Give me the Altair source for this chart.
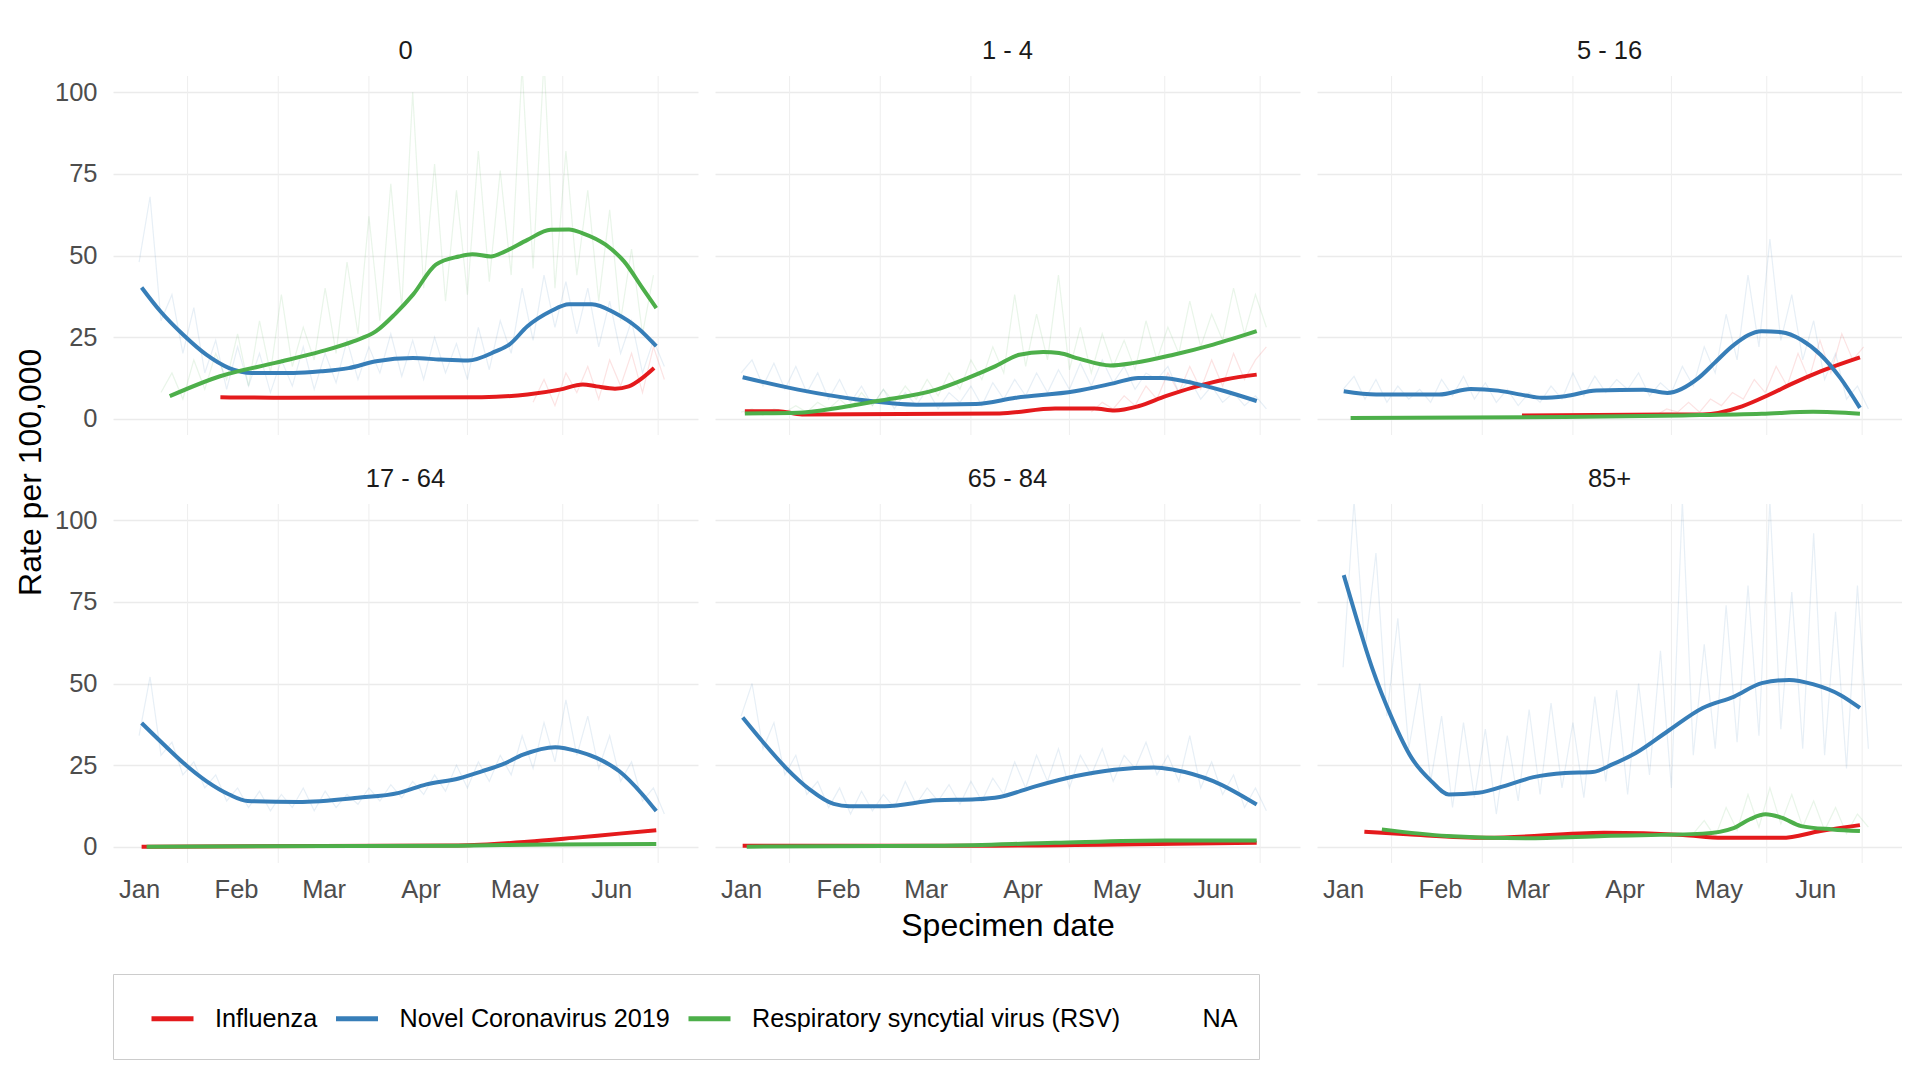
import altair as alt
import pandas as pd

FONT = "Liberation Sans"

AGES = ["0", "1 - 4", "5 - 16", "17 - 64", "65 - 84", "85+"]
VIRUSES = ["Influenza", "Novel Coronavirus 2019",
           "Respiratory syncytial virus (RSV)", "NA"]
COLORS = ["#E41A1C", "#377EB8", "#4DAF4A", "rgba(0,0,0,0)"]

START = pd.Timestamp("2021-01-01")
MONTH_STARTS = [(1, 1), (2, 1), (3, 1), (4, 1), (5, 1), (6, 1)]
# minor grid sits half way between month starts (days since 1 Jan)
MID_MONTH_DAYS = [15.5, 44.5, 73.5, 105.0, 135.5, 166.0]

# Smoothed rate per 100,000: (days since 1 Jan 2021, rate)
flu = {
    "0": [(26, 6.6), (47.9, 6.4), (109.6, 6.6), (124.2, 7.4), (134.5, 8.9),
          (141.9, 10.5), (146.3, 9.9), (152.2, 9.2), (156.6, 9.9),
          (161, 12.5), (164.7, 15.5)],
    "1 - 4": [(1.2, 2.3), (11.9, 2.3), (19.5, 1.3), (82.7, 1.6), (100.4, 3.1),
              (113, 3.1), (119.4, 2.5), (127, 3.8), (135.8, 6.9),
              (144.7, 9.6), (154.8, 12.0), (164.9, 13.5)],
    "5 - 16": [(57.2, 1.0), (103.7, 1.3), (115, 1.3), (127.6, 3.8),
               (136.4, 7.4), (144, 10.9), (152.7, 14.5), (165.3, 18.8)],
    "17 - 64": [(0.8, 0.0), (102, 0.4), (124.2, 1.5), (138.9, 2.7),
                (153.6, 4.0), (165.4, 5.0)],
    "65 - 84": [(0.5, 0.3), (75, 0.3), (138.3, 0.9), (164.9, 1.2)],
    "85+": [(6.8, 4.6), (20.6, 3.8), (45.8, 2.7), (83.5, 4.3), (108.7, 3.6),
            (121.3, 2.7), (140.2, 2.7), (152.7, 4.8), (165.3, 6.6)],
}
covid = {
    "0": [(0.8, 40.2), (6.8, 32.9), (14.1, 25.7), (21.5, 19.6), (28.8, 15.5),
          (36.2, 14.0), (49.4, 14.0), (58.2, 14.5), (67, 15.5), (75.8, 17.6),
          (87.6, 18.6), (96.4, 18.1), (105.2, 17.8), (114, 20.6),
          (118.4, 22.7), (124.2, 28.3), (131.6, 32.9), (137.5, 35.1),
          (144.8, 35.1), (152.2, 32.4), (159.5, 27.8), (165.4, 22.2)],
    "1 - 4": [(0.5, 12.7), (18.2, 8.9), (37.2, 5.9), (56.2, 4.3), (75.1, 4.5),
              (87.8, 6.4), (106.7, 8.4), (119.4, 10.9), (127, 12.5),
              (134.5, 12.5), (144.7, 10.9), (154.8, 8.4), (164.9, 5.4)],
    "5 - 16": [(0.2, 8.4), (10.6, 7.4), (30.7, 7.4), (40.8, 9.1), (49.6, 8.6),
               (58.4, 7.1), (63.4, 6.4), (71, 6.9), (81, 8.6), (96.1, 8.9),
               (103.7, 7.9), (113.7, 12.5), (118.8, 17.1), (125.1, 22.7),
               (133.9, 26.8), (140.2, 26.5), (146.5, 24.2), (152.7, 19.6),
               (159, 12.5), (165.3, 3.3)],
    "17 - 64": [(0.8, 37.9), (6.8, 32.3), (14.1, 25.7), (21.5, 20.1),
                (28.8, 16.0), (34.7, 14.0), (50.8, 13.7), (69.9, 15.0),
                (83.1, 16.5), (91.9, 19.1), (102.2, 20.9), (109.6, 23.1),
                (116.2, 25.2), (122.8, 28.2), (133.1, 30.5), (140.4, 29.2),
                (146.3, 27.2), (153.6, 23.1), (161, 16.0), (165.4, 10.9)],
    "65 - 84": [(0.5, 39.6), (6.8, 32.3), (14.4, 24.1), (22, 17.5),
                (29.6, 13.1), (34.7, 12.4), (46, 12.4), (62.5, 14.2),
                (75.1, 14.5), (82.7, 15.2), (94.1, 18.5), (106.7, 21.6),
                (119.4, 23.6), (132, 24.3), (138.3, 23.6), (151, 20.1),
                (164.9, 12.9)],
    "85+": [(0.2, 83.2), (4.3, 69.9), (9.3, 54.7), (15.6, 39.4), (21.9, 27.2),
            (28.2, 20.1), (33.8, 16.0), (43.3, 16.5), (53.3, 19.1),
            (60.9, 21.3), (71, 22.6), (79.8, 22.9), (86.1, 25.2),
            (93.6, 28.7), (103.7, 35.3), (115, 42.5), (125.1, 46.0),
            (133.9, 50.1), (142.7, 51.1), (150.2, 49.8), (159, 46.5),
            (165.3, 42.5)],
}
rsv = {
    "0": [(9.8, 6.9), (25.9, 13.0), (43.5, 17.1), (58.2, 20.6), (68.5, 23.7),
          (75.8, 26.8), (81.7, 31.9), (87.6, 38.0), (94.9, 47.2),
          (102.3, 49.7), (106.6, 50.4), (112.5, 49.7), (116.9, 51.2),
          (124.2, 54.8), (131.6, 57.9), (137.5, 58.0), (141.9, 56.8),
          (149.2, 53.3), (155.1, 48.2), (161, 40.0), (165.4, 33.9)],
    "1 - 4": [(1.2, 1.6), (18.2, 1.8), (30.9, 3.3), (43.5, 5.4), (62.5, 8.9),
              (72.6, 12.5), (81.4, 16.1), (89, 19.6), (96.6, 20.4),
              (101.7, 20.1), (108, 18.4), (118.1, 16.3), (125.7, 17.1),
              (138.3, 19.6), (151, 22.7), (164.9, 26.8)],
    "5 - 16": [(2.4, 0.2), (71, 0.5), (108.6, 1.0), (133.9, 1.5),
               (150.3, 2.1), (165.3, 1.5)],
    "17 - 64": [(2.4, 0.0), (102, 0.3), (131.6, 0.7), (165.4, 0.8)],
    "65 - 84": [(1.8, 0.0), (65, 0.3), (100.4, 1.2), (135.8, 1.9),
                (164.9, 1.9)],
    "85+": [(12.4, 5.3), (33.2, 3.3), (58.4, 2.6), (83.5, 3.3), (115, 4.0),
            (125.1, 5.8), (130.1, 8.4), (135.1, 9.9), (140.2, 8.9),
            (146.5, 6.3), (156.5, 5.3), (165.3, 4.8)],
}

# Daily counts, sampled every 3.5 days: (first day, values)
RAW_STEP = 3.5
raw_covid = {
    "0": (0, [48, 68, 30, 38, 20, 34, 14, 24, 9, 22, 10, 20, 8, 18, 10, 22,
              9, 20, 11, 24, 12, 22, 14, 26, 13, 24, 12, 25, 14, 23, 12, 28,
              15, 30, 20, 40, 24, 44, 28, 42, 26, 40, 22, 36, 20, 30, 14, 24,
              16]),
    "1 - 4": (0, [14, 18, 10, 17, 9, 16, 8, 14, 6, 12, 5, 10, 4, 9, 3, 8, 4,
                  9, 3, 8, 5, 10, 4, 11, 6, 12, 7, 14, 8, 15, 9, 17, 10, 18,
                  11, 16, 9, 14, 12, 16, 8, 12, 6, 10, 5, 8, 4, 7, 3]),
    "5 - 16": (0, [9, 13, 6, 12, 5, 10, 6, 9, 5, 12, 7, 13, 6, 11, 5, 9, 4,
                   8, 5, 10, 6, 14, 7, 13, 8, 12, 9, 14, 7, 11, 8, 16, 10, 22,
                   14, 32, 18, 44, 22, 55, 24, 38, 18, 30, 12, 20, 6, 10, 3]),
    "17 - 64": (0, [34, 52, 28, 32, 22, 26, 18, 22, 14, 18, 12, 17, 11, 16,
                    12, 18, 11, 17, 12, 16, 13, 18, 14, 19, 15, 20, 16, 22,
                    17, 25, 18, 26, 20, 28, 22, 34, 24, 38, 26, 45, 28, 40,
                    24, 34, 20, 26, 14, 18, 10]),
    "65 - 84": (0, [40, 50, 30, 38, 22, 28, 16, 20, 12, 18, 10, 17, 11, 16,
                    12, 20, 13, 18, 14, 19, 13, 20, 14, 21, 16, 26, 18, 28,
                    20, 30, 18, 28, 22, 30, 20, 28, 24, 32, 22, 28, 20, 34,
                    18, 26, 16, 22, 12, 18, 11]),
    "85+": (0, [55, 106, 60, 90, 40, 70, 30, 50, 20, 40, 12, 38, 15, 36, 10,
                34, 14, 42, 16, 44, 18, 38, 15, 46, 20, 48, 16, 50, 22, 60,
                18, 106, 28, 62, 30, 74, 32, 80, 34, 106, 36, 78, 30, 96, 28,
                72, 24, 80, 30]),
}
raw_rsv = {
    "0": (7, [8, 14, 6, 18, 9, 20, 12, 26, 10, 30, 14, 38, 16, 28, 18, 40, 20,
              48, 26, 62, 30, 72, 34, 100, 40, 78, 36, 70, 38, 82, 42, 76, 44,
              108, 46, 110, 40, 82, 44, 70, 36, 64, 30, 52, 26, 44]),
    "1 - 4": (0, [2, 3, 1, 3, 2, 4, 2, 5, 3, 6, 3, 8, 4, 9, 5, 10, 6, 12, 7,
                  14, 9, 18, 12, 22, 14, 38, 16, 32, 18, 44, 15, 28, 14, 26,
                  16, 24, 15, 30, 18, 28, 20, 36, 22, 32, 24, 40, 26, 38, 28]),
    "85+": (112, [4, 8, 3, 12, 5, 16, 6, 18, 7, 16, 6, 14, 5, 12, 4, 10, 6]),
}
raw_flu = {
    "0": (126, [5, 12, 4, 14, 8, 16, 6, 18, 10, 20, 8, 22, 12]),
    "1 - 4": (112, [2, 5, 3, 7, 4, 10, 6, 14, 8, 16, 9, 18, 10, 20, 12, 18,
                    22]),
    "5 - 16": (100, [1, 3, 2, 5, 2, 6, 4, 8, 6, 12, 8, 16, 10, 20, 12, 24,
                     14, 26, 18, 22]),
}


def stamp(day):
    return (START + pd.to_timedelta(day, unit="D")).strftime("%Y-%m-%dT%H:%M:%S")


rows = []
for virus, table in zip(VIRUSES[:3], [flu, covid, rsv]):
    for age, pts in table.items():
        for day, val in pts:
            rows.append({"age": age, "virus": virus, "kind": "trend",
                         "date": stamp(day), "value": val})
for virus, table in zip(VIRUSES[:3], [raw_flu, raw_covid, raw_rsv]):
    for age, (first, vals) in table.items():
        for i, val in enumerate(vals):
            rows.append({"age": age, "virus": virus, "kind": "raw",
                         "date": stamp(first + i * RAW_STEP), "value": val})
for age in AGES:
    for day in MID_MONTH_DAYS:
        rows.append({"age": age, "virus": "grid", "kind": "grid",
                     "date": stamp(day), "value": 0})
df = pd.DataFrame(rows)

TICK_SIZE = 25.5
TITLE_SIZE = 32

x_scale = alt.Scale(domain=["2020-12-23T15:36:00", "2021-06-28T18:00:00"],
                    nice=False)
x_axis = alt.Axis(values=[alt.DateTime(year=2021, month=m, date=d)
                          for m, d in MONTH_STARTS],
                  format="%b", grid=False, ticks=False, domain=False,
                  labelFontSize=TICK_SIZE, labelColor="#4D4D4D",
                  labelPadding=13, title=None)
y_scale = alt.Scale(domain=[-5, 105], nice=False, zero=False)
y_axis = alt.Axis(values=[0, 25, 50, 75, 100], grid=True,
                  gridColor="#EBEBEB", gridWidth=1.5, ticks=False,
                  domain=False, labelFontSize=TICK_SIZE,
                  labelColor="#4D4D4D", labelPadding=16, title=None)
color = alt.Color(
    "virus:N",
    scale=alt.Scale(domain=VIRUSES, range=COLORS),
    legend=alt.Legend(
        title=" ", titleOrient="left", titlePadding=15, titleFontSize=50,
        orient="none", direction="horizontal", legendX=0, legendY=898,
        symbolType="stroke", symbolStrokeWidth=5, symbolSize=1764,
        symbolOpacity=1, labelFontSize=25.2, labelColor="#000000",
        labelOffset=19, columnPadding=7.5, padding=21, strokeColor="#CCCCCC",
        labelLimit=600,
    ),
)

base = alt.Chart(df)

grid = base.transform_filter(alt.datum.kind == "grid").mark_rule(
    color="#EEEEEE", strokeWidth=1
).encode(x=alt.X("date:T", scale=x_scale, axis=x_axis))

raw = base.transform_filter(alt.datum.kind == "raw").mark_line(
    strokeWidth=1.2, opacity=0.12, clip=True
).encode(
    x=alt.X("date:T", scale=x_scale, axis=x_axis),
    y=alt.Y("value:Q", scale=y_scale, axis=y_axis),
    color=color,
    detail="virus:N",
)

trend = base.transform_filter(alt.datum.kind == "trend").mark_line(
    strokeWidth=4, interpolate="monotone", strokeCap="butt"
).encode(
    x=alt.X("date:T", scale=x_scale, axis=x_axis),
    y=alt.Y("value:Q", scale=y_scale, axis=y_axis),
    color=color,
    detail="virus:N",
)

chart = alt.layer(grid, raw, trend).properties(width=585, height=359).facet(
    facet=alt.Facet(
        "age:N", sort=AGES, title="Specimen date",
        header=alt.Header(labelFontSize=TICK_SIZE, labelColor="#1A1A1A",
                          labelPadding=11, labelFont=FONT,
                          labelOrient="top", titleOrient="bottom",
                          titleFontSize=TITLE_SIZE, titleFontWeight="normal",
                          titleColor="#000000", titleFont=FONT,
                          titlePadding=8),
    ),
    columns=3,
    spacing={"row": 31, "column": 17},
).properties(
    title=alt.TitleParams("Rate per 100,000", orient="left", anchor="middle",
                          fontSize=TITLE_SIZE, fontWeight="normal",
                          color="#000000", offset=6, dx=77, font=FONT),
    padding={"left": 15, "top": 39, "right": 0, "bottom": 0},
    background="#FFFFFF",
).configure(font=FONT).configure_view(stroke=None)

chart.save("out.html", embed_options={"renderer": "svg", "actions": False})
